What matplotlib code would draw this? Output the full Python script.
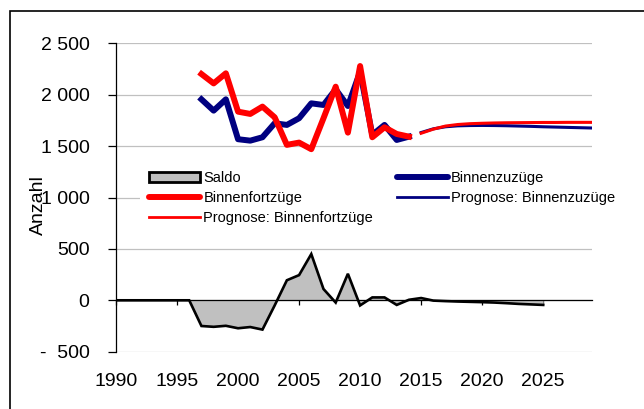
import matplotlib
matplotlib.use("Agg")
import matplotlib.pyplot as plt
from matplotlib.patches import Rectangle, Patch
from matplotlib.lines import Line2D

plt.rcParams['font.family'] = ['Liberation Sans', 'DejaVu Sans']

# ---- data ----
saldo_years = list(range(1990, 2026))
saldo = [0, 0, 0, 0, 0, 0, 0,
         -250, -258, -248, -272, -260, -285, -50, 195, 245, 450, 110, -22, 258,
         -50, 28, 28, -45, 5, 22, -3, -8, -12, -15, -18, -22, -28, -35, -40, -45]

hist_years = list(range(1997, 2015))
zuzuege = [1955, 1845, 1955, 1567, 1553, 1586, 1722, 1706, 1771, 1916, 1900,
           2052, 1890, 2223, 1609, 1706, 1560, 1592]
fortzuege = [2201, 2110, 2208, 1835, 1813, 1884, 1780, 1512, 1534, 1470, 1771,
             2078, 1631, 2279, 1586, 1683, 1618, 1592]

prog_years = list(range(2015, 2030))
prog_zu = [1632, 1668, 1688, 1697, 1700, 1701, 1700, 1698, 1695, 1692, 1688,
           1685, 1682, 1679, 1676]
prog_fort = [1625, 1665, 1695, 1710, 1718, 1722, 1725, 1727, 1728, 1729, 1730,
             1730, 1731, 1731, 1731]

xticks = [1990, 1995, 2000, 2005, 2010, 2015, 2020, 2025]
yticks = [-500, 0, 500, 1000, 1500, 2000, 2500]
ytick_labels = ['-  500', '0', '500', '1 000', '1 500', '2 000', '2 500']

NAVY = '#000080'
RED = '#FF0000'
GRAY = '#C0C0C0'

fig = plt.figure(figsize=(6.44, 4.09), dpi=100)
ax = fig.add_axes([116/644, 1-351.7/409, (592-116)/644, (351.7-43.3)/409])

# outer frame
fig.patches.append(Rectangle((10/644, -0.1), 1.2, 1 - 11/409 + 0.1,
                             transform=fig.transFigure, fill=False,
                             edgecolor='black', linewidth=1.2, zorder=0))

ax.set_xlim(1990, 2029)
ax.set_ylim(-500, 2500)

for y in yticks:
    ax.axhline(y, color=GRAY, linewidth=0.9, zorder=0)

ax.fill_between(saldo_years, saldo, 0, color=GRAY, zorder=2, linewidth=0)
ax.plot(saldo_years, saldo, color='black', linewidth=1.9, zorder=3,
        solid_joinstyle='miter')

ax.plot(hist_years, zuzuege, color=NAVY, linewidth=4.3, zorder=4,
        solid_joinstyle='round')
ax.plot(hist_years, fortzuege, color=RED, linewidth=4.3, zorder=5,
        solid_joinstyle='round')
ax.plot(prog_years, prog_zu, color=NAVY, linewidth=2.2, zorder=4)
ax.plot(prog_years, prog_fort, color=RED, linewidth=2.2, zorder=5)

# axes styling
for s in ['top', 'right']:
    ax.spines[s].set_visible(False)
ax.spines['bottom'].set_position(('data', 0))
ax.spines['bottom'].set_linewidth(0.9)
ax.spines['bottom'].set_zorder(6)
ax.spines['left'].set_linewidth(0.9)

ax.set_xticks(xticks)
ax.set_xticklabels([str(x) for x in xticks])
ax.set_yticks(yticks)
ax.set_yticklabels(ytick_labels)
ax.tick_params(axis='y', direction='out', length=6, width=0.9, pad=13,
               labelsize=14)
ax.tick_params(axis='x', direction='out', length=3.6, width=0.9, pad=49,
               labelsize=14)

fig.text(38/644, 1-205/409, 'Anzahl', rotation=90, ha='center', va='center',
         fontsize=14)

handles = [
    Patch(facecolor=GRAY, edgecolor='black', linewidth=2),
    Line2D([], [], color=RED, linewidth=4.3, solid_capstyle='round'),
    Line2D([], [], color=RED, linewidth=2.0),
    Line2D([], [], color=NAVY, linewidth=4.3, solid_capstyle='round'),
    Line2D([], [], color=NAVY, linewidth=2.0),
]
labels = ['Saldo', 'Binnenfortzüge', 'Prognose: Binnenfortzüge',
          'Binnenzuzüge', 'Prognose: Binnenzuzüge']
leg = fig.legend(handles, labels, ncol=2, loc='upper left',
                 bbox_to_anchor=(140/644, 1-162/409), fontsize=10.5,
                 frameon=True, facecolor='white', edgecolor='none',
                 framealpha=1, fancybox=False, borderpad=0.6,
                 handlelength=3.5, handletextpad=0.25, columnspacing=1.6,
                 labelspacing=0.42, borderaxespad=0)
leg.set_zorder(10)

fig.savefig('out.png', dpi=100)
